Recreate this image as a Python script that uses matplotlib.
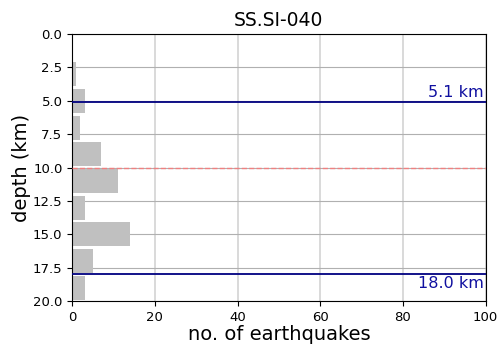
import numpy as np
import matplotlib
matplotlib.use('Agg')
import matplotlib.pyplot as plt

station = 'SS.SI-040'
bin_edges = np.arange(0, 22, 2)
counts = [0, 1, 3, 2, 7, 11, 3, 14, 5, 3]
top_depth = 5.1
bottom_depth = 18.0
mid_depth = 10.0

centers = (bin_edges[:-1] + bin_edges[1:]) / 2

fig, ax = plt.subplots(figsize=(4.98, 3.52), dpi=100)
fig.subplots_adjust(left=0.145, right=0.975, top=0.903, bottom=0.145)

ax.barh(centers, counts, height=1.8, color='#c0c0c0', zorder=2)
ax.axhline(top_depth, color='#000080', lw=1.3, zorder=3)
ax.axhline(bottom_depth, color='#000080', lw=1.3, zorder=3)
ax.axhline(mid_depth, color='#f08080', lw=1.0, ls='--', zorder=3)

ax.text(99.5, top_depth - 0.15, f'{top_depth:.1f} km', color='#1010a0',
        ha='right', va='bottom', fontsize=11.5)
ax.text(99.5, bottom_depth + 0.1, f'{bottom_depth:.1f} km', color='#1010a0',
        ha='right', va='top', fontsize=11.5)

ax.set_xlim(0, 100)
ax.set_ylim(20, 0)
ax.set_yticks(np.arange(0, 20.1, 2.5))
ax.grid(True, axis='x', color='#d3d3d3', lw=1.2, zorder=0)
ax.grid(True, axis='y', color='#b0b0b0', lw=0.8, zorder=0)
ax.set_axisbelow(True)
ax.tick_params(labelsize=9.5)

ax.set_title(station, fontsize=13.5)
ax.set_xlabel('no. of earthquakes', fontsize=14, labelpad=1)
ax.set_ylabel('depth (km)', fontsize=14, labelpad=1)

plt.savefig('out.png', dpi=100)
